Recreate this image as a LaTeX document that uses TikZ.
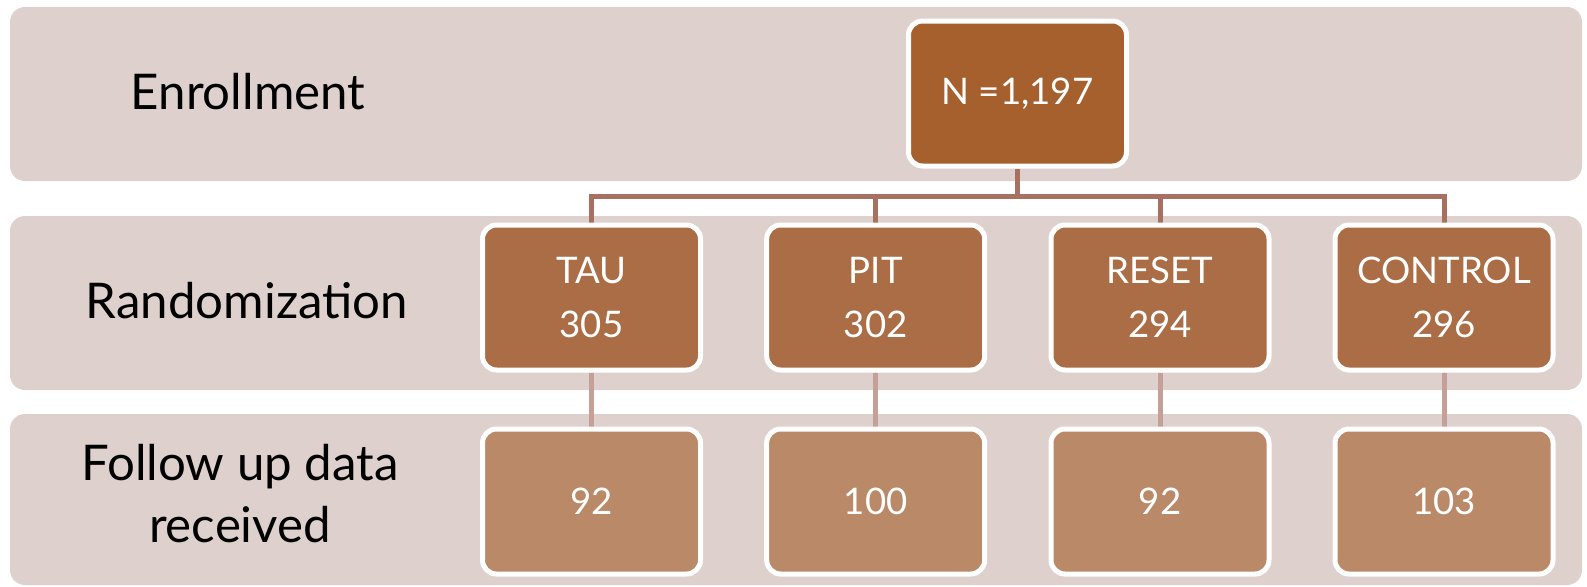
\documentclass[tikz,border=0pt]{standalone}
\usepackage{fontspec}
\setmainfont{Lato}
\definecolor{bandc}{RGB}{221,208,205}
\definecolor{topbox}{RGB}{165,96,46}
\definecolor{midbox}{RGB}{171,109,69}
\definecolor{lowbox}{RGB}{185,137,104}
\definecolor{conndark}{RGB}{168,112,96}
\definecolor{connlight}{RGB}{196,160,152}
\pgfdeclarelayer{bands}
\pgfdeclarelayer{links}
\pgfsetlayers{bands,links,main}
\begin{document}
\begin{tikzpicture}[x=0.5pt,y=-0.5pt,
  band/.style={fill=bandc, rounded corners=7.5pt},
  box/.style={draw=white, line width=2.5pt, rounded corners=7pt,
    minimum width=109pt, minimum height=72.5pt, inner sep=0pt,
    text=white, align=center, font=\fontsize{18.3}{27}\selectfont},
  topc/.style={draw=conndark, line width=2.5pt},
  lowc/.style={draw=connlight, line width=2.5pt},
  lab/.style={font=\fontsize{24.6}{31}\selectfont, align=center, text=black, inner sep=0pt}]
\useasboundingbox (0,0) rectangle (1587,586);
\begin{pgfonlayer}{bands}
  \fill[white] (0,0) rectangle (1587,586);
  \fill[band] (10,7) rectangle (1582,181);
  \fill[band] (10,216) rectangle (1582,390);
  \fill[band] (10,414) rectangle (1582,585);
\end{pgfonlayer}
% row labels
\node[lab, anchor=base] (enr) at (248,109) {Enrollment};
\node[lab, anchor=base] (rnd) at (247,318) {Randomization};
\node[lab] (fol) at (240,494) {Follow up data\\received};
% boxes
\node[box, fill=topbox] (n) at (1017.5,93.5) {N =1,197};
\node[box, fill=midbox] (tau) at (591.5,297.5) {TAU\\305};
\node[box, fill=midbox] (pit) at (875.7,297.5) {PIT\\302};
\node[box, fill=midbox] (reset) at (1160,297.5) {RESET\\294};
\node[box, fill=midbox] (control) at (1444,297.5) {CONTROL\\296};
\node[box, fill=lowbox] (ftau) at (591.5,501.5) {92};
\node[box, fill=lowbox] (fpit) at (875.7,501.5) {100};
\node[box, fill=lowbox] (freset) at (1160,501.5) {92};
\node[box, fill=lowbox] (fcontrol) at (1444,501.5) {103};
% connectors
\coordinate (bar) at (0,196);
\begin{pgfonlayer}{links}
  \draw[topc] (n.south) -- (n.south |- bar);
  \draw[topc] (tau.north) -- (tau.north |- bar) -- (control.north |- bar) -- (control.north);
  \draw[topc] (pit.north) -- (pit.north |- bar);
  \draw[topc] (reset.north) -- (reset.north |- bar);
  \draw[lowc] (tau.south) -- (ftau.north);
  \draw[lowc] (pit.south) -- (fpit.north);
  \draw[lowc] (reset.south) -- (freset.north);
  \draw[lowc] (control.south) -- (fcontrol.north);
\end{pgfonlayer}
\end{tikzpicture}
\end{document}
